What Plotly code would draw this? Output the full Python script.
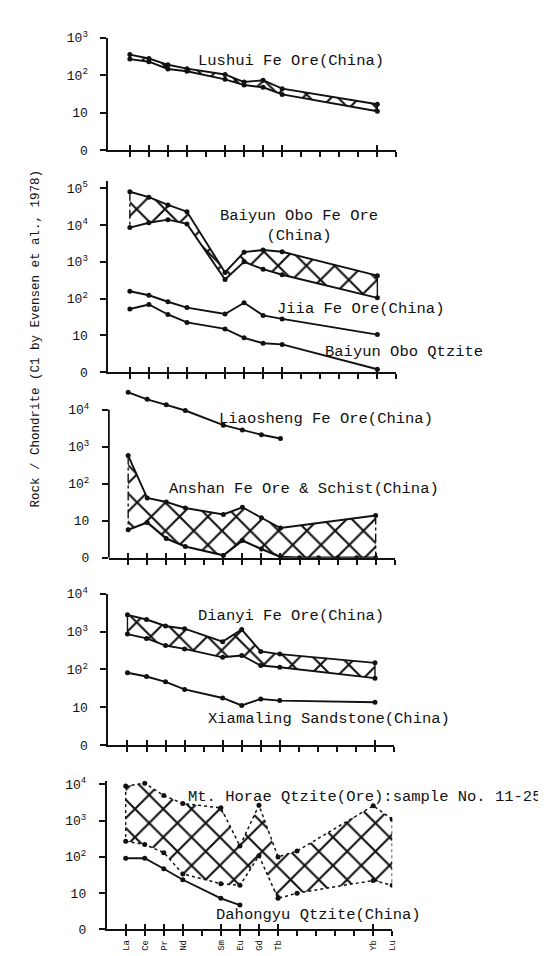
import plotly.graph_objects as go

W, H = 546, 956

# ---------------- data ----------------
REE = ["La", "Ce", "Pr", "Nd", "Pm", "Sm", "Eu", "Gd", "Tb", "Dy", "Ho", "Er", "Tm", "Yb", "Lu"]
tick_labels = ["La", "Ce", "Pr", "Nd", "", "Sm", "Eu", "Gd", "Tb", "", "", "", "", "Yb", "Lu"]
main_elems = ["La", "Ce", "Pr", "Nd", "Sm", "Eu", "Gd", "Tb", "Yb"]

lushui_upper = [355, 280, 190, 150, 105, 66, 74, 44, 17]
lushui_lower = [270, 230, 147, 128, 78, 55, 48, 31, 11]

baiyun_upper = [80000, 57000, 35000, 23000, 515, 1830, 2100, 1870, 420]
baiyun_lower = [8500, 11500, 14000, 10700, 330, 1000, 630, 445, 105]
jiia = [158, 123, 82, 57, 38, 77, 35, 28, 10.5]
baiyun_qtz = [52, 69, 37, 22.5, 15, 8.6, 6.1, 5.7, 1.2]

liaosheng_elems = ["La", "Ce", "Pr", "Nd", "Sm", "Eu", "Gd", "Tb"]
liaosheng = [29500, 19000, 13500, 9500, 3800, 2800, 2100, 1660]
anshan_upper = [575, 41, 32, 22, 14.7, 23, 12, 6.3, 13.8]
anshan_lower_elems = ["La", "Ce", "Pr", "Nd", "Sm", "Eu", "Gd", "Tb", "Dy", "Ho", "Er", "Tm", "Yb"]
anshan_lower = [5.7, 8.9, 3.3, 2.0, 1.15, 2.9, 1.7, 1.05, 1.0, 1.0, 1.0, 1.0, 1.0]

dianyi_upper = [2800, 2100, 1420, 1200, 545, 1140, 300, 255, 150]
dianyi_lower = [865, 665, 430, 350, 210, 235, 127, 115, 59]
xiamaling = [82, 65, 47, 29.6, 17.6, 11.2, 16.6, 15, 13.6]

horae_elems = ["La", "Ce", "Pr", "Nd", "Sm", "Eu", "Gd", "Tb", "Dy", "Yb", "Lu"]
horae_upper = [8900, 10700, 4900, 2950, 2240, 200, 2650, 100, 145, 2550, 1090]
horae_lower = [270, 220, 131, 34, 18.3, 16.5, 107, 7.2, 10, 22.4, 16.5]
dahongyu_elems = ["La", "Ce", "Pr", "Nd", "Sm", "Eu"]
dahongyu = [92, 92, 47, 23.4, 7.2, 4.7]

y_tick_vals = [1, 10, 100, 1000, 10000, 100000]
y_tick_text = ["0", "10", "10<sup>2</sup>", "10<sup>3</sup>", "10<sup>4</sup>", "10<sup>5</sup>"]

# ---------------- layout geometry ----------------
SP = 19.25
panels = [
    dict(axis_px=101.5, la_px=123.2, zero_px=136, decade=38.3, top=3.0, nt=4),
    dict(axis_px=101.5, la_px=123.2, zero_px=362, decade=37.5, top=5.2, nt=6),
    dict(axis_px=102.0, la_px=121.5, zero_px=551, decade=37.7, top=4.55, nt=5),
    dict(axis_px=101.5, la_px=120.8, zero_px=742, decade=38.5, top=4.0, nt=5),
    dict(axis_px=99.8, la_px=119.0, zero_px=930, decade=37.0, top=4.1, nt=5),
]

FONT = "Liberation Mono, Courier New, monospace"
INK = "#111111"

def idx(names):
    return [REE.index(n) for n in names]

fig = go.Figure()

def ax_names(k):
    return ("x" if k == 1 else f"x{k}", "y" if k == 1 else f"y{k}")

def band(k, xs_up, up, xs_lo, lo, size=20):
    xa, ya = ax_names(k)
    px = idx(xs_up) + idx(xs_lo)[::-1]
    py = list(up) + list(lo)[::-1]
    fig.add_trace(go.Scatter(
        x=px + [px[0]], y=py + [py[0]], xaxis=xa, yaxis=ya, mode="lines",
        fill="toself", fillcolor="white", line=dict(width=0, color="rgba(0,0,0,0)"),
        fillpattern=dict(shape="x", size=size, solidity=0.2, fgcolor=INK, bgcolor="white",
                         fillmode="replace"),
        hoverinfo="skip", showlegend=False))

def line(k, xs, ys, dash="solid", width=1.9, marker=True):
    xa, ya = ax_names(k)
    fig.add_trace(go.Scatter(
        x=idx(xs), y=ys, xaxis=xa, yaxis=ya,
        mode="lines+markers" if marker else "lines",
        line=dict(color=INK, width=width, dash=dash),
        marker=dict(size=5, color=INK),
        showlegend=False, hoverinfo="skip"))

def edge(k, elem, y_a, y_b, dash="solid"):
    xa, ya = ax_names(k)
    fig.add_trace(go.Scatter(
        x=idx([elem, elem]), y=[y_a, y_b], xaxis=xa, yaxis=ya, mode="lines",
        line=dict(color=INK, width=1.4, dash=dash), showlegend=False, hoverinfo="skip"))

# Panel 1
band(1, main_elems, lushui_upper, main_elems, lushui_lower)
line(1, main_elems, lushui_upper)
line(1, main_elems, lushui_lower)
edge(1, "La", lushui_upper[0], lushui_lower[0])
edge(1, "Yb", lushui_upper[-1], lushui_lower[-1])

# Panel 2
band(2, main_elems, baiyun_upper, main_elems, baiyun_lower)
line(2, main_elems, baiyun_upper)
line(2, main_elems, baiyun_lower)
edge(2, "La", baiyun_upper[0], baiyun_lower[0], dash="dashdot")
edge(2, "Yb", baiyun_upper[-1], baiyun_lower[-1])
line(2, main_elems, jiia)
line(2, main_elems, baiyun_qtz)

# Panel 3
band(3, main_elems, anshan_upper, anshan_lower_elems, anshan_lower)
line(3, main_elems, anshan_upper)
line(3, anshan_lower_elems, anshan_lower, width=2.2)
edge(3, "La", anshan_upper[0], anshan_lower[0], dash="dashdot")
edge(3, "Yb", anshan_upper[-1], anshan_lower[-1], dash="dashdot")
line(3, liaosheng_elems, liaosheng)

# Panel 4
band(4, main_elems, dianyi_upper, main_elems, dianyi_lower)
line(4, main_elems, dianyi_upper)
line(4, main_elems, dianyi_lower)
edge(4, "La", dianyi_upper[0], dianyi_lower[0])
edge(4, "Yb", dianyi_upper[-1], dianyi_lower[-1])
line(4, main_elems, xiamaling)

# Panel 5
band(5, horae_elems, horae_upper, horae_elems, horae_lower)
line(5, horae_elems, horae_upper, dash="dot", width=1.5)
line(5, horae_elems, horae_lower, dash="dot", width=1.5)
edge(5, "La", horae_upper[0], horae_lower[0], dash="dot")
edge(5, "Lu", horae_upper[-1], horae_lower[-1], dash="dot")
line(5, dahongyu_elems, dahongyu)

layout = dict(
    width=W, height=H, margin=dict(l=0, r=0, t=0, b=0),
    paper_bgcolor="white", plot_bgcolor="rgba(0,0,0,0)",
    font=dict(family=FONT, color=INK, size=13), showlegend=False,
)
shapes = []
for k, p in enumerate(panels, start=1):
    xa, ya = ax_names(k)
    xkey = "xaxis" if k == 1 else f"xaxis{k}"
    ykey = "yaxis" if k == 1 else f"yaxis{k}"
    x0 = p["axis_px"]
    x1 = p["la_px"] + 14 * SP
    rng_lo = (x0 - p["la_px"]) / SP
    y_bot = p["zero_px"]
    y_top = p["zero_px"] - p["top"] * p["decade"]
    layout[xkey] = dict(
        domain=[x0 / W, x1 / W], range=[rng_lo, 14.0], anchor=ya,
        showline=True, linecolor=INK, linewidth=1.8, showgrid=False, zeroline=False,
        ticks="outside", ticklen=5, tickwidth=1.6, tickcolor=INK,
        tickmode="array", tickvals=list(range(len(REE))),
        ticktext=tick_labels, showticklabels=(k == 5), tickangle=-90,
        tickfont=dict(family=FONT, size=9, color=INK),
    )
    show_line = (k != 3)
    layout[ykey] = dict(
        domain=[1 - y_bot / H, 1 - y_top / H], range=[0, p["top"]], type="log", anchor=xa,
        showline=show_line, linecolor=INK, linewidth=1.8, showgrid=False, zeroline=False,
        ticks="outside", ticklen=6, tickwidth=1.6, tickcolor=INK,
        tickmode="array", tickvals=y_tick_vals[:p["nt"]], ticktext=y_tick_text[:p["nt"]],
        ticklabelstandoff=10,
        tickfont=dict(family=FONT, size=13, color=INK),
    )
    # inner half of the crossing x ticks
    ikey = f"xaxis{k + 5}"
    layout[ikey] = dict(
        domain=[x0 / W, x1 / W], range=[rng_lo, 14.0], anchor=ya, overlaying=xa,
        showline=False, showgrid=False, zeroline=False, ticks="inside", ticklen=5,
        tickwidth=1.6, tickcolor=INK, tickmode="array",
        tickvals=idx(["La", "Ce", "Pr", "Nd", "Sm", "Eu", "Gd", "Tb", "Yb", "Lu"]),
        showticklabels=False,
    )
    fig.add_trace(go.Scatter(x=[None], y=[None], xaxis=f"x{k + 5}", yaxis=ya,
                             showlegend=False, hoverinfo="skip"))

# panel 3 y-axis line only up to 10^4
shapes.append(dict(type="line", xref="x3 domain", yref="y3", x0=0, x1=0, y0=1, y1=10000,
                   line=dict(color=INK, width=1.8)))
layout["shapes"] = shapes

def label(text, x_px, y_px, anchor="left", size=15.5, align="left"):
    return dict(text=text, x=x_px / W, y=1 - y_px / H, xref="paper", yref="paper",
                xanchor=anchor, yanchor="middle", showarrow=False, align=align,
                font=dict(family=FONT, size=size, color=INK))

layout["annotations"] = [
    label("Lushui Fe Ore(China)", 190, 45),
    label("Baiyun Obo Fe Ore<br>(China)", 294, 213, anchor="center", align="center"),
    label("Jiia Fe Ore(China)", 270, 298),
    label("Baiyun Obo Qtzite", 319, 341),
    label("Liaosheng Fe Ore(China)", 211, 410),
    label("Anshan Fe Ore & Schist(China)", 161, 481),
    label("Dianyi Fe Ore(China)", 190, 610),
    label("Xiamaling Sandstone(China)", 200, 715),
    label("Mt. Horae Qtzite(Ore):sample No. 11-25", 180, 795),
    label("Dahongyu Qtzite(China)", 208, 915),
    dict(text="Rock / Chondrite (C1 by Evensen et al., 1978)", x=28 / W, y=1 - 328 / H,
         xref="paper", yref="paper", xanchor="center", yanchor="middle", textangle=-90,
         showarrow=False, font=dict(family=FONT, size=12.5, color=INK)),
]

fig.update_layout(**layout)
fig.write_html("out.html")
